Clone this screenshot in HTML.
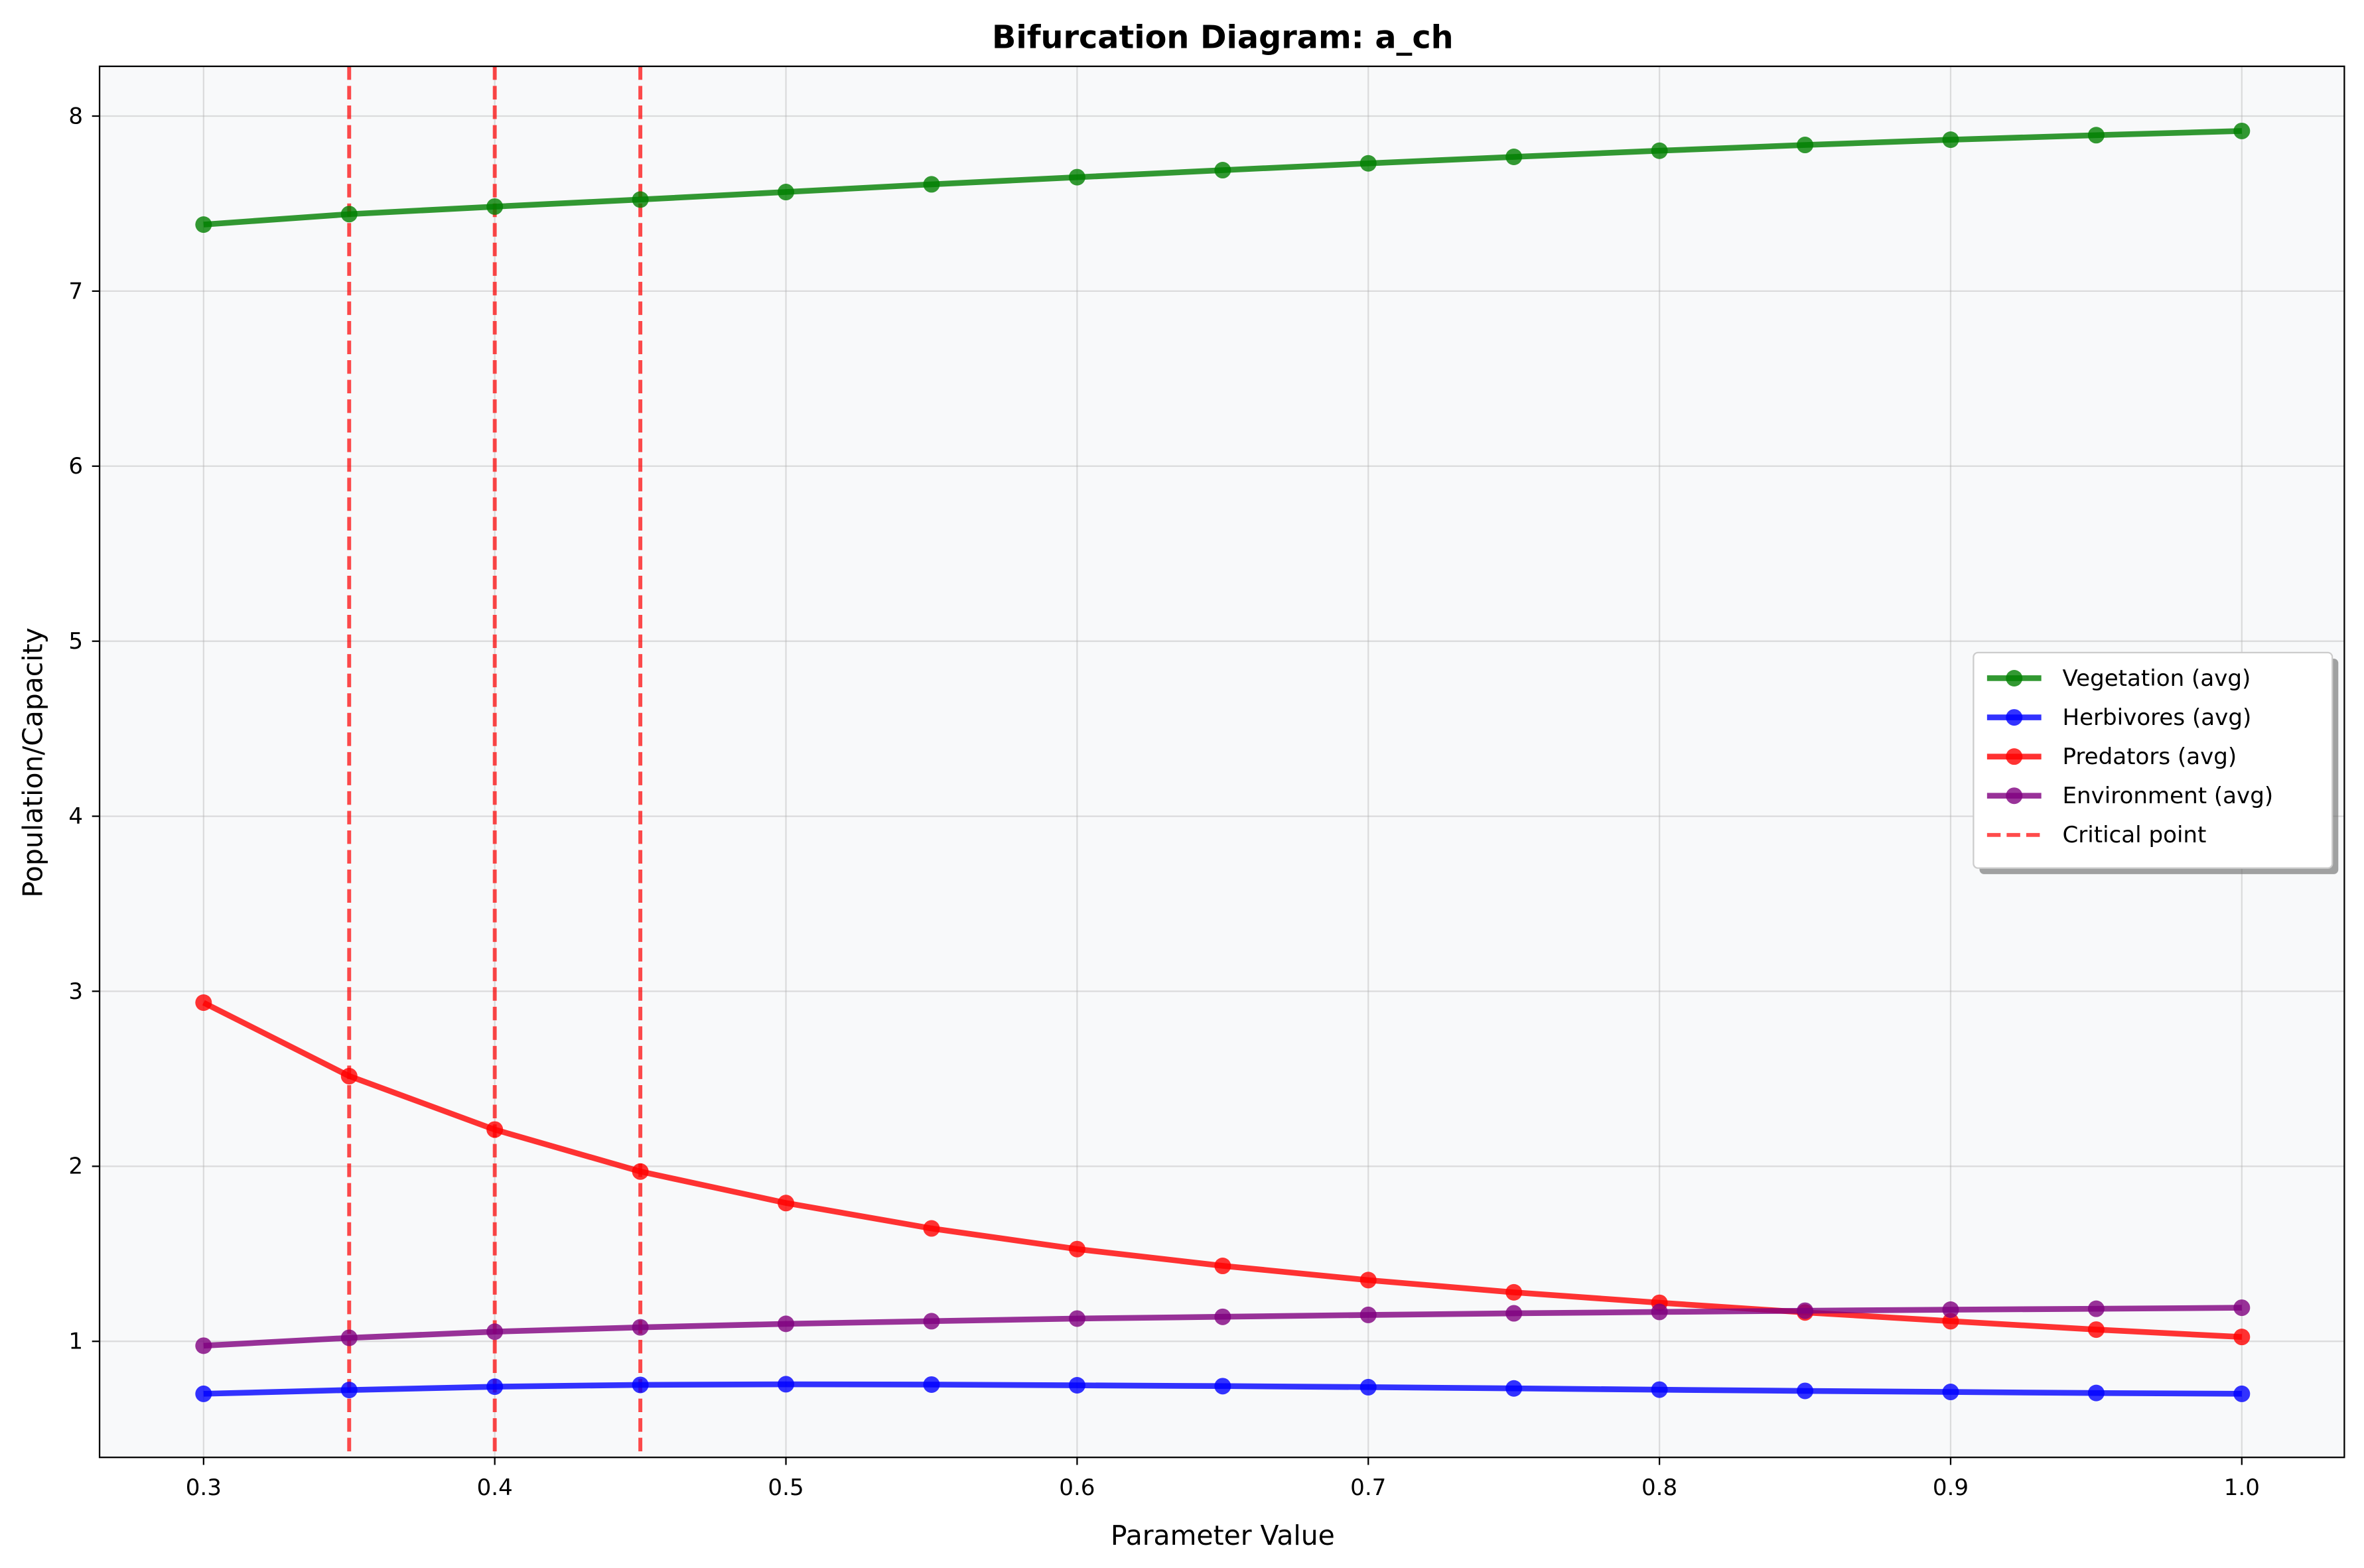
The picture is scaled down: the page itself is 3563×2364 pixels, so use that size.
<!DOCTYPE html>
<html><head><meta charset="utf-8">
<style>
html,body{margin:0;padding:0;background:#fff;}
svg{display:block;font-family:"DejaVu Sans","Liberation Sans",sans-serif;}
</style></head>
<body>
<svg id="c" width="3563" height="2364" viewBox="0 0 1568 1040.4" xmlns="http://www.w3.org/2000/svg">
<rect x="0" y="0" width="1568" height="1040.4" fill="#fff"/>
<rect x="66" y="44" width="1489" height="923" fill="#f8f9fa"/>
<g id="grid"></g>
<g id="data"></g>
<rect x="66" y="44" width="1489" height="923" fill="none" stroke="#000" stroke-width="1"/>
<g id="ticks" font-size="15" fill="#000"></g>
<text x="811" y="32" font-size="21" font-weight="bold" text-anchor="middle">Bifurcation Diagram: a_ch</text>
<text x="811" y="1025" font-size="18" text-anchor="middle">Parameter Value</text>
<text x="0" y="0" font-size="18" text-anchor="middle" transform="translate(28,506) rotate(-90)">Population/Capacity</text>
<g id="legend">
<rect x="1313" y="437" width="238" height="143" rx="3" fill="#666" opacity="0.6"/>
<rect x="1309" y="433" width="238" height="143" rx="3" fill="#fff" stroke="#ccc"/>
</g>
</svg>
<script>
var NS="http://www.w3.org/2000/svg";
function el(p,t,a,txt){var e=document.createElementNS(NS,t);for(var k in a)e.setAttribute(k,a[k]);if(txt!=null)e.textContent=txt;document.getElementById(p).appendChild(e);return e;}
function X(v){return 135+(v-0.3)*1931.4;}
function Y(v){return 890-(v-1)*116.14;}
var xs=[];for(var i=0;i<15;i++)xs.push(0.3+i*0.05);
for(var i=3;i<=10;i++){var v=i/10,x=X(v);
 el("grid","line",{x1:x,x2:x,y1:44,y2:967,stroke:"#b0b0b0","stroke-width":1,opacity:0.4});
 el("ticks","line",{x1:x,x2:x,y1:967,y2:972,stroke:"#000","stroke-width":1});
 el("ticks","text",{x:x,y:992,"text-anchor":"middle"},v.toFixed(1));}
for(var j=1;j<=8;j++){var y=Y(j);
 el("grid","line",{x1:66,x2:1555,y1:y,y2:y,stroke:"#b0b0b0","stroke-width":1,opacity:0.4});
 el("ticks","line",{x1:61,x2:66,y1:y,y2:y,stroke:"#000","stroke-width":1});
 el("ticks","text",{x:55,y:y+5,"text-anchor":"end"},String(j));}
[0.35,0.4,0.45].forEach(function(v){var x=X(v);
 el("data","line",{x1:x,x2:x,y1:44,y2:967,stroke:"#ff0000","stroke-width":2.6,"stroke-dasharray":"9,4",opacity:0.7});});
var S=[
 ["green",[7.38,7.44,7.483,7.523,7.566,7.61,7.651,7.691,7.73,7.767,7.802,7.835,7.865,7.891,7.915]],
 ["blue",[0.70,0.722,0.741,0.751,0.755,0.753,0.749,0.744,0.738,0.731,0.724,0.717,0.711,0.705,0.70]],
 ["red",[2.935,2.515,2.21,1.97,1.79,1.645,1.527,1.431,1.35,1.28,1.22,1.165,1.115,1.067,1.025]],
 ["purple",[0.975,1.02,1.055,1.08,1.10,1.115,1.13,1.14,1.151,1.16,1.168,1.175,1.181,1.186,1.192]]];
S.forEach(function(s){var pts=s[1].map(function(v,i){return X(xs[i]).toFixed(1)+","+Y(v).toFixed(1);}).join(" ");
 el("data","polyline",{points:pts,fill:"none",stroke:s[0],"stroke-width":3.8,opacity:0.8,"stroke-linejoin":"round"});
 s[1].forEach(function(v,i){el("data","circle",{cx:X(xs[i]),cy:Y(v),r:5.5,fill:s[0],opacity:0.8});});});
var L=[["green","Vegetation (avg)"],["blue","Herbivores (avg)"],["red","Predators (avg)"],["purple","Environment (avg)"]];
L.forEach(function(l,i){var y=450+i*26;
 el("legend","line",{x1:1318,x2:1354,y1:y,y2:y,stroke:l[0],"stroke-width":3.8,opacity:0.8});
 el("legend","circle",{cx:1336,cy:y,r:5.5,fill:l[0],opacity:0.8});
 el("legend","text",{x:1368,y:y+5,"font-size":15},l[1]);});
var y=450+4*26;
el("legend","line",{x1:1318,x2:1354,y1:y,y2:y,stroke:"#ff0000","stroke-width":2.6,"stroke-dasharray":"9,4",opacity:0.7});
el("legend","text",{x:1368,y:y+5,"font-size":15},"Critical point");
</script>
</body></html>
